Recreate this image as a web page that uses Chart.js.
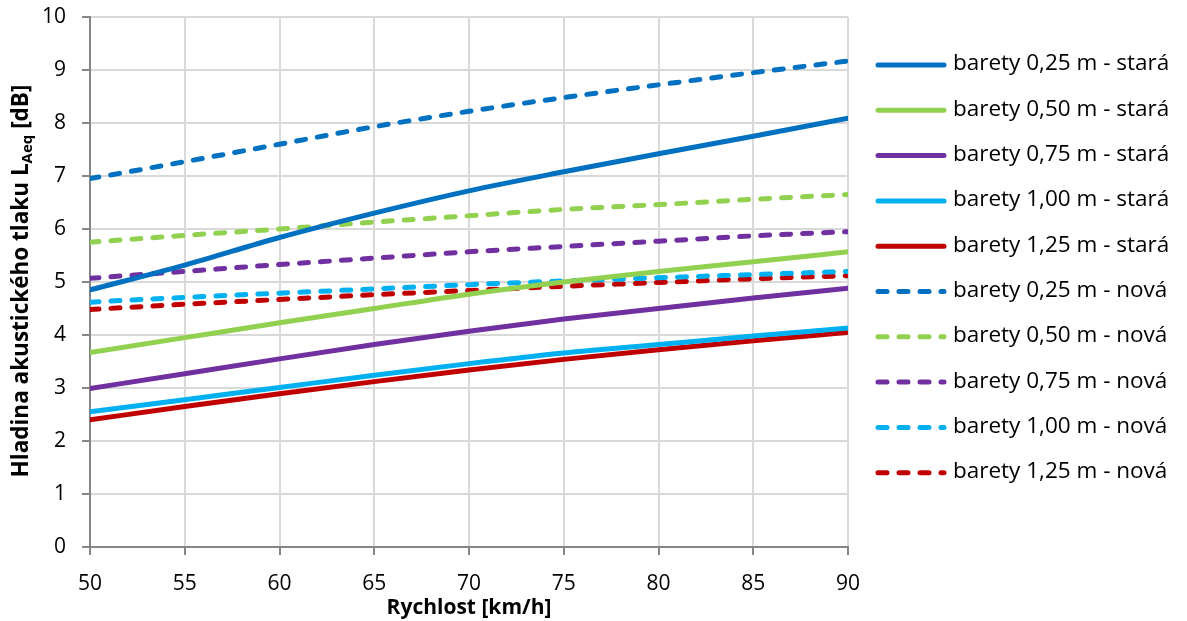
<!DOCTYPE html>
<html lang="cs">
<head>
<meta charset="UTF-8">
<title>Hladina akustického tlaku</title>
<script src="https://cdn.jsdelivr.net/npm/chart.js"></script>
<style>
    html, body { margin: 0; padding: 0; background: #ffffff; }
    #wrap { width: 1187px; height: 621px; }
</style>
</head>
<body>
<div id="wrap"><canvas id="chart" width="1187" height="621"></canvas></div>
<script>
// rychlost [km/h]
const speeds = [50, 55, 60, 65, 70, 75, 80, 85, 90];

// stará
const old025 = [4.85, 5.32, 5.84, 6.30, 6.72, 7.08, 7.42, 7.75, 8.09];
const old050 = [3.67, 3.95, 4.23, 4.50, 4.77, 5.00, 5.20, 5.38, 5.57];
const old075 = [2.99, 3.27, 3.55, 3.82, 4.07, 4.30, 4.50, 4.70, 4.88];
const old100 = [2.55, 2.78, 3.01, 3.24, 3.46, 3.66, 3.82, 3.98, 4.13];
const old125 = [2.40, 2.65, 2.89, 3.12, 3.34, 3.54, 3.72, 3.89, 4.05];

// nová
const new025 = [6.95, 7.27, 7.60, 7.93, 8.22, 8.48, 8.72, 8.95, 9.17];
const new050 = [5.75, 5.88, 6.00, 6.13, 6.25, 6.37, 6.46, 6.56, 6.65];
const new075 = [5.07, 5.20, 5.33, 5.45, 5.57, 5.67, 5.77, 5.87, 5.95];
const new100 = [4.62, 4.71, 4.79, 4.87, 4.95, 5.02, 5.08, 5.14, 5.20];
const new125 = [4.48, 4.58, 4.67, 4.76, 4.84, 4.92, 4.99, 5.06, 5.12];

const seriesNames = [
    'barety 0,25 m - stará', 'barety 0,50 m - stará', 'barety 0,75 m - stará',
    'barety 1,00 m - stará', 'barety 1,25 m - stará',
    'barety 0,25 m - nová', 'barety 0,50 m - nová', 'barety 0,75 m - nová',
    'barety 1,00 m - nová', 'barety 1,25 m - nová'
];
const seriesValues = [old025, old050, old075, old100, old125, new025, new050, new075, new100, new125];
const colors = ['#0070C0', '#92D050', '#7030A0', '#00B0F0', '#C00000'];

const FONT = '"Open Sans", sans-serif';

const datasets = seriesValues.map((vals, i) => {
    const dashed = i >= 5;
    return {
        label: seriesNames[i],
        data: speeds.map((s, j) => ({ x: s, y: vals[j] })),
        borderColor: colors[i % 5],
        backgroundColor: colors[i % 5],
        borderWidth: 5,
        borderDash: dashed ? [9, 12] : [],
        borderCapStyle: 'round',
        pointRadius: 0,
        pointHoverRadius: 0,
        tension: 0.4,
        cubicInterpolationMode: 'monotone',
        fill: false
    };
});

// legenda a popisek osy y (s dolním indexem)
const extras = {
    id: 'extras',
    afterDraw(chart) {
        const ctx = chart.ctx;
        ctx.save();
        // legend
        ctx.font = '22.5px ' + FONT;
        ctx.textBaseline = 'middle';
        ctx.fillStyle = '#000';
        chart.data.datasets.forEach((ds, i) => {
            const y = 65 + i * 45.3;
            ctx.strokeStyle = ds.borderColor;
            ctx.lineWidth = 5;
            ctx.lineCap = 'round';
            ctx.setLineDash(ds.borderDash.length ? [9, 12] : []);
            ctx.beginPath();
            ctx.moveTo(878, y);
            ctx.lineTo(944, y);
            ctx.stroke();
            ctx.setLineDash([]);
            ctx.fillText(ds.label, 953, y - 1);
        });

        // y title
        ctx.translate(22, 281);
        ctx.rotate(-Math.PI / 2);
        const big = 'bold 22.5px ' + FONT;
        const small = 'bold 15px ' + FONT;
        const parts = [
            ['Hladina akustického tlaku L', big, 0],
            ['Aeq', small, 6],
            [' [dB]', big, 0]
        ];
        let total = 0;
        parts.forEach(p => { ctx.font = p[1]; total += ctx.measureText(p[0]).width; });
        let x = -total / 2;
        ctx.textBaseline = 'middle';
        parts.forEach(p => {
            ctx.font = p[1];
            ctx.fillText(p[0], x, p[2]);
            x += ctx.measureText(p[0]).width;
        });
        ctx.restore();
    }
};

new Chart(document.getElementById('chart'), {
    type: 'line',
    data: { datasets: datasets },
    options: {
        responsive: false,
        animation: false,
        layout: { padding: { left: 0, right: 339, top: 17, bottom: 0 } },
        plugins: {
            legend: { display: false },
            tooltip: { enabled: false }
        },
        scales: {
            x: {
                type: 'linear',
                min: 50,
                max: 90,
                ticks: { stepSize: 5, color: '#000', font: { family: FONT, size: 21 }, padding: 16 },
                grid: { color: '#d9d9d9', lineWidth: 2, tickLength: 8, tickColor: '#868686' },
                border: { color: '#868686', width: 2 },
                title: {
                    display: true,
                    text: 'Rychlost [km/h]',
                    color: '#000',
                    font: { family: FONT, size: 21, weight: 'bold' },
                    padding: { top: 0, bottom: 0 }
                },
                afterFit(scale) { scale.height = 74; }
            },
            y: {
                min: 0,
                max: 10,
                ticks: { stepSize: 1, color: '#000', font: { family: FONT, size: 21 }, padding: 16 },
                grid: { color: '#d9d9d9', lineWidth: 2, tickLength: 8, tickColor: '#868686' },
                border: { color: '#868686', width: 2 },
                afterFit(scale) {
                    scale.width = 90;
                    scale.paddingTop = 0;
                    scale.paddingBottom = 0;
                }
            }
        }
    },
    plugins: [extras]
});
</script>
</body>
</html>
